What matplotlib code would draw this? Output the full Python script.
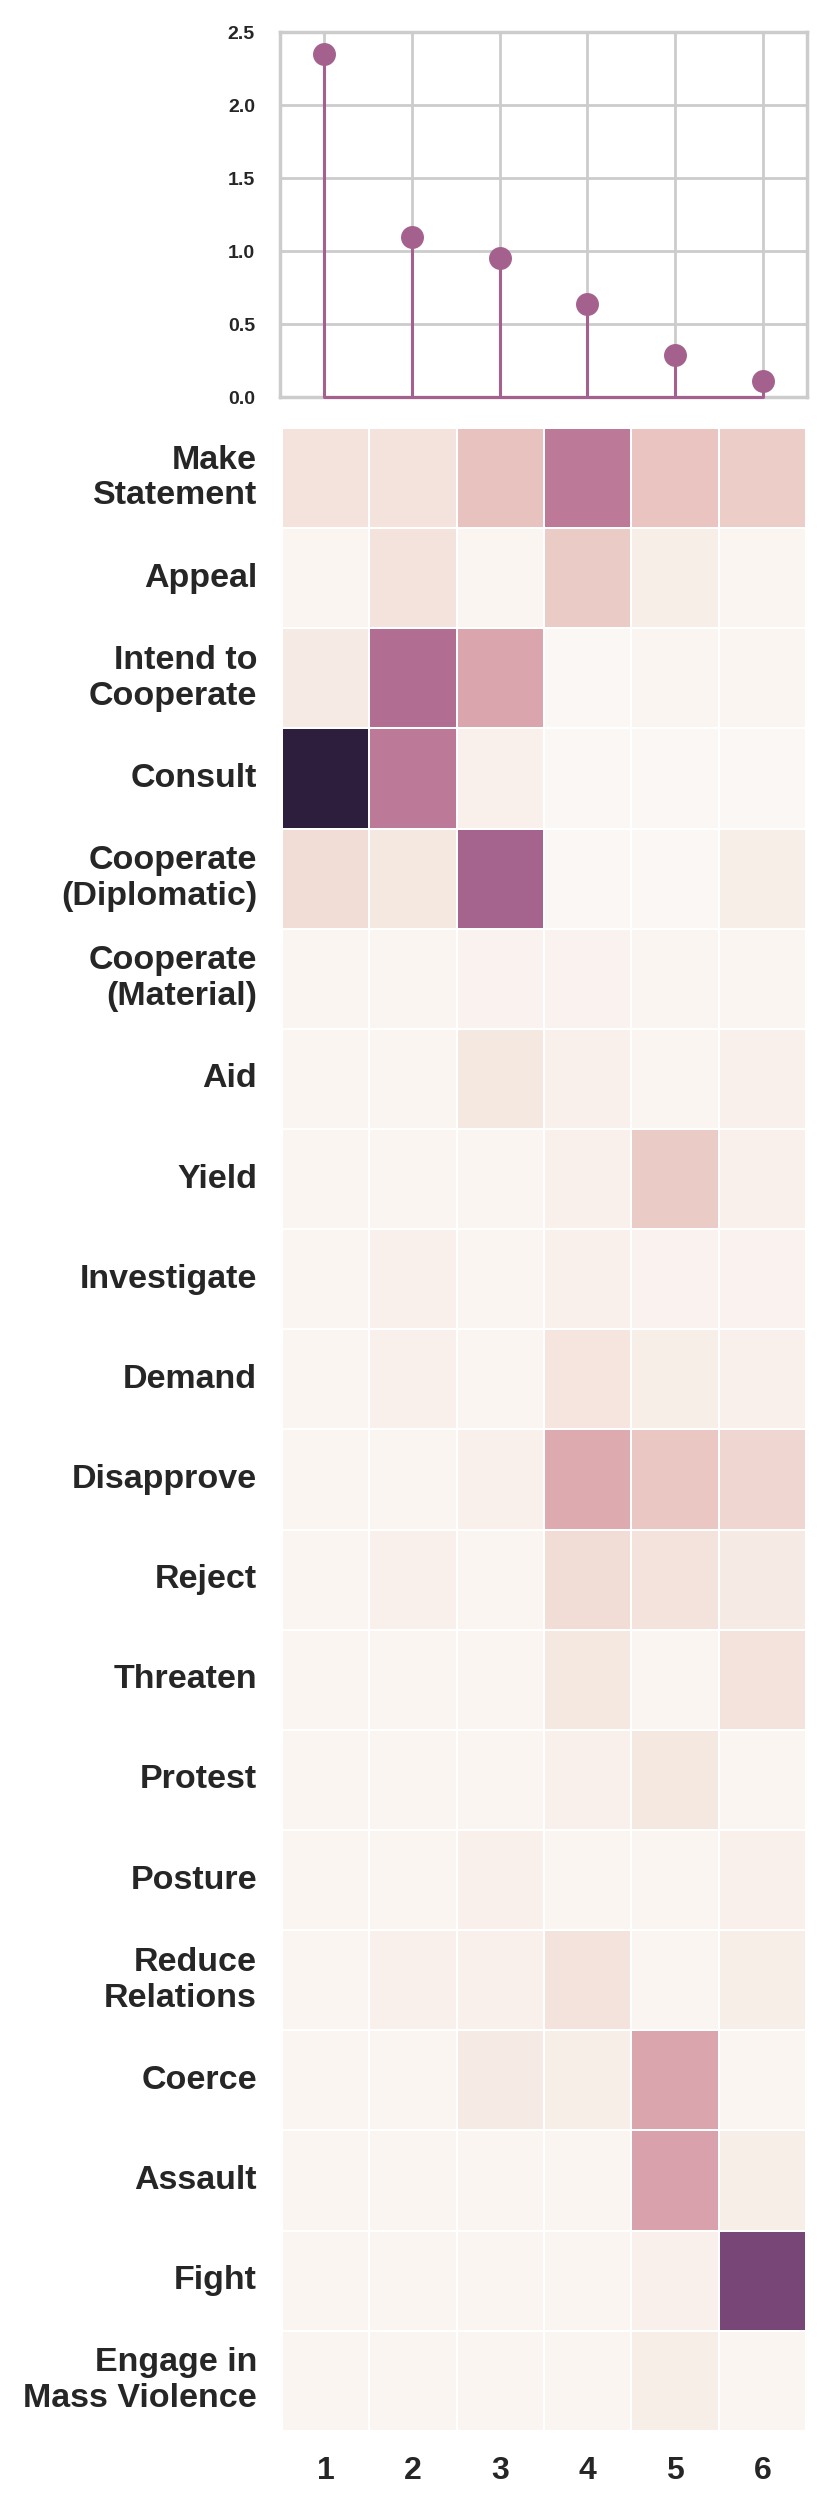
import numpy as np
import matplotlib
matplotlib.use("Agg")
import matplotlib.pyplot as plt
import seaborn as sns

# --- data ---
topics = [1, 2, 3, 4, 5, 6]
topic_weights = [2.35, 1.10, 0.95, 0.64, 0.29, 0.11]

event_types = [
    "Make\nStatement", "Appeal", "Intend to\nCooperate", "Consult",
    "Cooperate\n(Diplomatic)", "Cooperate\n(Material)", "Aid", "Yield",
    "Investigate", "Demand", "Disapprove", "Reject", "Threaten", "Protest",
    "Posture", "Reduce\nRelations", "Coerce", "Assault", "Fight",
    "Engage in\nMass Violence",
]

make_statement = [0.10, 0.10, 0.22, 0.50, 0.21, 0.18]
appeal = [0.03, 0.10, 0.03, 0.19, 0.06, 0.03]
intend_coop = [0.07, 0.55, 0.33, 0.02, 0.03, 0.03]
consult = [1.00, 0.50, 0.05, 0.02, 0.02, 0.02]
coop_dipl = [0.12, 0.08, 0.60, 0.02, 0.02, 0.06]
coop_mat = [0.03, 0.03, 0.04, 0.04, 0.03, 0.03]
aid = [0.03, 0.03, 0.08, 0.05, 0.03, 0.05]
yield_ = [0.03, 0.03, 0.03, 0.05, 0.19, 0.05]
investigate = [0.03, 0.05, 0.03, 0.05, 0.04, 0.04]
demand = [0.03, 0.05, 0.03, 0.09, 0.06, 0.05]
disapprove = [0.03, 0.03, 0.05, 0.31, 0.20, 0.15]
reject = [0.03, 0.05, 0.03, 0.12, 0.10, 0.07]
threaten = [0.03, 0.03, 0.03, 0.08, 0.03, 0.10]
protest = [0.03, 0.03, 0.03, 0.05, 0.08, 0.03]
posture = [0.03, 0.03, 0.05, 0.03, 0.03, 0.05]
reduce_rel = [0.03, 0.05, 0.05, 0.10, 0.03, 0.06]
coerce = [0.03, 0.03, 0.07, 0.06, 0.33, 0.03]
assault = [0.03, 0.03, 0.03, 0.03, 0.34, 0.06]
fight = [0.03, 0.03, 0.03, 0.03, 0.05, 0.75]
mass_violence = [0.03, 0.03, 0.03, 0.03, 0.06, 0.03]

matrix = np.array([
    make_statement, appeal, intend_coop, consult, coop_dipl, coop_mat, aid,
    yield_, investigate, demand, disapprove, reject, threaten, protest,
    posture, reduce_rel, coerce, assault, fight, mass_violence,
])

sns.set_style("whitegrid")
plt.rcParams['font.family'] = ['Liberation Sans', 'DejaVu Sans']
plt.rcParams['font.weight'] = 'bold'

stem_color = "#a5618e"
cmap = sns.cubehelix_palette(as_cmap=True, light=0.97, dark=0.15)

fig = plt.figure(figsize=(8.3, 25.1), dpi=100)
ax_top = fig.add_axes([0.3373, 0.8418, 0.635, 0.1454])
ax_heat = fig.add_axes([0.3398, 0.0315, 0.6313, 0.798])

# ---- stem plot of topic weights ----
markerline, stemlines, baseline = ax_top.stem(topics, topic_weights)
plt.setp(markerline, color=stem_color, markersize=15.5, zorder=4)
plt.setp(stemlines, color=stem_color, linewidth=2.2, zorder=3)
plt.setp(baseline, color=stem_color, linewidth=2.2, zorder=3, clip_on=False)
ax_top.set_xlim(0.5, 6.5)
ax_top.set_ylim(0, 2.5)
ax_top.set_yticks([0, 0.5, 1.0, 1.5, 2.0, 2.5])
ax_top.set_xticks(topics)
ax_top.set_xticklabels([])
ax_top.tick_params(axis="y", labelsize=14, pad=18, length=0)
ax_top.tick_params(axis="x", length=0)
ax_top.grid(True, color="#cccccc", linewidth=2)
for sp in ax_top.spines.values():
    sp.set_color("#cccccc")
    sp.set_linewidth(2.5)
for lbl in ax_top.get_yticklabels():
    lbl.set_fontweight("bold")

# ---- heatmap ----
sns.heatmap(matrix, ax=ax_heat, cmap=cmap, cbar=False,
            linewidths=1.2, linecolor="white",
            xticklabels=topics, yticklabels=event_types)
ax_heat.tick_params(axis="both", length=0, pad=18)
for lbl in ax_heat.get_yticklabels():
    lbl.set_rotation(0)
    lbl.set_fontsize(24.5)
    lbl.set_fontweight("bold")
    lbl.set_horizontalalignment("right")
    lbl.set_multialignment("right")
for lbl in ax_heat.get_xticklabels():
    lbl.set_fontsize(23)
    lbl.set_fontweight("bold")

fig.savefig("out.png", dpi=100)
plt.close(fig)
